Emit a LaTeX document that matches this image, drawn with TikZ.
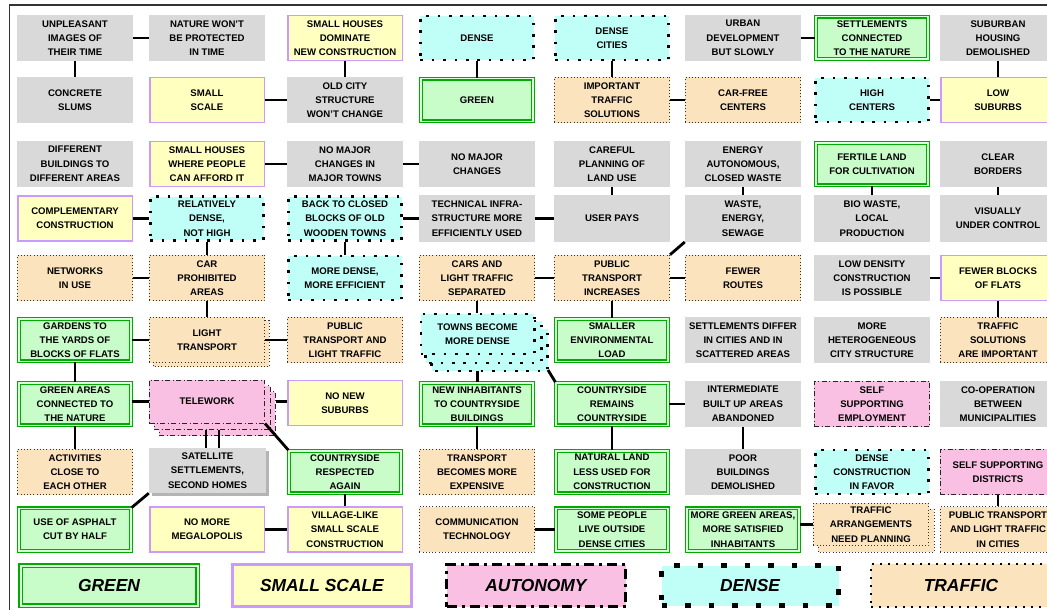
\documentclass[tikz,border=0pt]{standalone}
\usepackage{fontspec}
\setmainfont{Liberation Sans}
\usetikzlibrary{calc}
\definecolor{boxgray}{HTML}{D9D9D9}
\definecolor{boxyellow}{HTML}{FFFFC0}
\definecolor{lav}{HTML}{CC99FF}
\definecolor{boxgreen}{HTML}{C8FCC8}
\definecolor{linegreen}{HTML}{00AA00}
\definecolor{boxcyan}{HTML}{C0FFF8}
\definecolor{boxorange}{HTML}{FBE3BD}
\definecolor{boxpink}{HTML}{F9C0E3}
\definecolor{shadowgray}{HTML}{B4B4B4}
\definecolor{framecol}{HTML}{333333}
\tikzset{
  base/.style={minimum width=116pt, minimum height=46.5pt, inner sep=0pt, align=center,
    font=\fontsize{9.6}{14.3}\selectfont\bfseries, text=black},
  graybox/.style={base, fill=boxgray},
  yellowbox/.style={base, fill=boxyellow, draw=lav, line width=1.5pt, minimum width=114.5pt, minimum height=45pt},
  greenbox/.style={base, fill=boxgreen, draw=linegreen, line width=1.2pt, double=boxgreen!70!white, double distance=1.5pt, minimum width=112pt, minimum height=42.5pt},
  cyanbox/.style={base, fill=boxcyan, draw=black, line width=2.6pt, dash pattern=on 2.6pt off 8.8pt, minimum width=113.4pt, minimum height=43.9pt},
  orangebox/.style={base, fill=boxorange, draw=black!80, line width=0.8pt, dash pattern=on 0.8pt off 2.4pt, minimum width=115.2pt, minimum height=45.7pt},
  pinkbox/.style={base, fill=boxpink, draw=black!85, line width=0.8pt, dash pattern=on 5pt off 2.5pt on 1pt off 2.5pt, minimum width=115.2pt, minimum height=45.7pt},
  pinkstack/.style={fill=boxpink, draw=black!85, line width=0.8pt, dash pattern=on 5pt off 2.5pt on 1pt off 2.5pt},
  cyanstack/.style={fill=boxcyan, draw=black, line width=2.6pt, dash pattern=on 2.6pt off 8.8pt},
  orangestack/.style={fill=boxorange, draw=black!80, line width=0.8pt, dash pattern=on 0.8pt off 2.4pt},
  conn/.style={line width=2.8pt, black},
  legbase/.style={minimum width=182pt, minimum height=45pt, inner sep=0pt,
    font=\fontsize{17.4}{20}\selectfont\bfseries\itshape, text=black},
  leggreen/.style={legbase, fill=boxgreen, draw=linegreen, line width=1.5pt, double=boxgreen!70!white, double distance=2pt, minimum width=177pt, minimum height=40pt},
  legyellow/.style={legbase, fill=boxyellow, draw=lav, line width=3pt, minimum width=179pt, minimum height=42pt},
  legpink/.style={legbase, fill=boxpink, draw=black, line width=3pt, dash pattern=on 10pt off 5pt on 3pt off 5pt, minimum width=179pt, minimum height=42pt},
  legcyan/.style={legbase, fill=boxcyan, draw=black, line width=5.5pt, dash pattern=on 5.5pt off 18pt, minimum width=177pt, minimum height=40pt},
  legorange/.style={legbase, fill=boxorange, draw=black, line width=2.3pt, dash pattern=on 2.3pt off 5.7pt, minimum width=180pt, minimum height=43pt},
}
\begin{document}
\begin{tikzpicture}[x=1pt,y=-1pt]
\useasboundingbox (0,0) rectangle (1047,610);
\fill[white] (0,0) rectangle (1047,610);
\draw[framecol, line width=1.4pt] (9.5,640) -- (9.5,5) -- (1070,5);

% Row 1
\node[graybox] (r1c1) at (75,38) {UNPLEASANT\\IMAGES OF\\THEIR TIME};
\node[graybox] (r1c2) at (207,38) {NATURE WON'T\\BE PROTECTED\\IN TIME};
\node[yellowbox] (r1c3) at (345,38) {SMALL HOUSES\\DOMINATE\\NEW CONSTRUCTION};
\node[cyanbox] (r1c4) at (477,38) {DENSE};
\node[cyanbox] (r1c5) at (612,38) {DENSE\\CITIES};
\node[graybox] (r1c6) at (743,38) {URBAN\\DEVELOPMENT\\BUT SLOWLY};
\node[greenbox] (r1c7) at (872,38) {SETTLEMENTS\\CONNECTED\\TO THE NATURE};
\node[graybox] (r1c8) at (998,38) {SUBURBAN\\HOUSING\\DEMOLISHED};
% Row 2
\node[graybox] (r2c1) at (75,100) {CONCRETE\\SLUMS};
\node[yellowbox] (r2c2) at (207,100) {SMALL\\SCALE};
\node[graybox] (r2c3) at (345,100) {OLD CITY\\STRUCTURE\\WON'T CHANGE};
\node[greenbox] (r2c4) at (477,100) {GREEN};
\node[orangebox] (r2c5) at (612,100) {IMPORTANT\\TRAFFIC\\SOLUTIONS};
\node[orangebox] (r2c6) at (743,100) {CAR-FREE\\CENTERS};
\node[cyanbox] (r2c7) at (872,100) {HIGH\\CENTERS};
\node[yellowbox] (r2c8) at (998,100) {LOW\\SUBURBS};
% Row 3
\node[graybox] (r3c1) at (75,164) {DIFFERENT\\BUILDINGS TO\\DIFFERENT AREAS};
\node[yellowbox] (r3c2) at (207,164) {SMALL HOUSES\\WHERE PEOPLE\\CAN AFFORD IT};
\node[graybox] (r3c3) at (345,164) {NO MAJOR\\CHANGES IN\\MAJOR TOWNS};
\node[graybox] (r3c4) at (477,164) {NO MAJOR\\CHANGES};
\node[graybox] (r3c5) at (612,164) {CAREFUL\\PLANNING OF\\LAND USE};
\node[graybox] (r3c6) at (743,164) {ENERGY\\AUTONOMOUS,\\CLOSED WASTE};
\node[greenbox] (r3c7) at (872,164) {FERTILE LAND\\FOR CULTIVATION};
\node[graybox] (r3c8) at (998,164) {CLEAR\\BORDERS};
% Row 4
\node[yellowbox] (r4c1) at (75,218.5) {COMPLEMENTARY\\CONSTRUCTION};
\node[cyanbox] (r4c2) at (207,218.5) {RELATIVELY\\DENSE,\\NOT HIGH};
\node[cyanbox] (r4c3) at (345,218.5) {BACK TO CLOSED\\BLOCKS OF OLD\\WOODEN TOWNS};
\node[graybox] (r4c4) at (477,218.5) {TECHNICAL INFRA-\\STRUCTURE MORE\\EFFICIENTLY USED};
\node[graybox] (r4c5) at (612,218.5) {USER PAYS};
\node[graybox] (r4c6) at (743,218.5) {WASTE,\\ENERGY,\\SEWAGE};
\node[graybox] (r4c7) at (872,218.5) {BIO WASTE,\\LOCAL\\PRODUCTION};
\node[graybox] (r4c8) at (998,218.5) {VISUALLY\\UNDER CONTROL};
% Row 5
\node[orangebox] (r5c1) at (75,278) {NETWORKS\\IN USE};
\node[orangebox] (r5c2) at (207,278) {CAR\\PROHIBITED\\AREAS};
\node[cyanbox] (r5c3) at (345,278) {MORE DENSE,\\MORE EFFICIENT};
\node[orangebox] (r5c4) at (477,278) {CARS AND\\LIGHT TRAFFIC\\SEPARATED};
\node[orangebox] (r5c5) at (612,278) {PUBLIC\\TRANSPORT\\INCREASES};
\node[orangebox] (r5c6) at (743,278) {FEWER\\ROUTES};
\node[graybox] (r5c7) at (872,278) {LOW DENSITY\\CONSTRUCTION\\IS POSSIBLE};
\node[yellowbox] (r5c8) at (998,278) {FEWER BLOCKS\\OF FLATS};
% Row 6
\node[greenbox] (r6c1) at (75,340) {GARDENS TO\\THE YARDS OF\\BLOCKS OF FLATS};
\path[orangestack] (153,320.5) rectangle (269,366.5);
\node[orangebox] (r6c2) at (207,340) {LIGHT\\TRANSPORT};
\node[orangebox] (r6c3) at (345,340) {PUBLIC\\TRANSPORT AND\\LIGHT TRAFFIC};
\path[cyanstack] (431.5,329) rectangle (547.5,371);
\path[cyanstack] (425.5,321) rectangle (541.5,363);
\node[cyanbox, minimum height=40pt] (r6c4) at (477.5,334) {TOWNS BECOME\\MORE DENSE};
\coordinate (townsbot) at (477.5,371);
\coordinate (townsbr) at (548,370);
\node[greenbox] (r6c5) at (612,340) {SMALLER\\ENVIRONMENTAL\\LOAD};
\node[graybox] (r6c6) at (743,340) {SETTLEMENTS DIFFER\\IN CITIES AND IN\\SCATTERED AREAS};
\node[graybox] (r6c7) at (872,340) {MORE\\HETEROGENEOUS\\CITY STRUCTURE};
\node[orangebox] (r6c8) at (998,340) {TRAFFIC\\SOLUTIONS\\ARE IMPORTANT};
% Row 7
\node[greenbox] (r7c1) at (75,404) {GREEN AREAS\\CONNECTED TO\\THE NATURE};
\path[pinkstack] (159,391.5) rectangle (275,435.5);
\path[pinkstack] (154,385.5) rectangle (270,429.5);
\node[pinkbox, minimum height=43.2pt] (r7c2) at (207,401.5) {TELEWORK};
\coordinate (twr) at (276,401.5);
\coordinate (tw1) at (206,430);
\coordinate (tw2) at (219,430);
\node[yellowbox] (r7c3) at (345,403) {NO NEW\\SUBURBS};
\node[greenbox] (r7c4) at (477,404) {NEW INHABITANTS\\TO COUNTRYSIDE\\BUILDINGS};
\node[greenbox] (r7c5) at (612,404) {COUNTRYSIDE\\REMAINS\\COUNTRYSIDE};
\node[graybox] (r7c6) at (743,404) {INTERMEDIATE\\BUILT UP AREAS\\ABANDONED};
\node[pinkbox] (r7c7) at (872,404) {SELF\\SUPPORTING\\EMPLOYMENT};
\node[graybox] (r7c8) at (998,404) {CO-OPERATION\\BETWEEN\\MUNICIPALITIES};
% Row 8
\node[orangebox] (r8c1) at (75,472) {ACTIVITIES\\CLOSE TO\\EACH OTHER};
\fill[shadowgray] (152,451) rectangle (269,496);
\node[graybox, minimum width=117pt, minimum height=45pt] (r8c2) at (207.5,470.5) {SATELLITE\\SETTLEMENTS,\\SECOND HOMES};
\node[greenbox] (r8c3) at (345,472) {COUNTRYSIDE\\RESPECTED\\AGAIN};
\node[orangebox] (r8c4) at (477,472) {TRANSPORT\\BECOMES MORE\\EXPENSIVE};
\node[greenbox] (r8c5) at (612,472) {NATURAL LAND\\LESS USED FOR\\CONSTRUCTION};
\node[graybox] (r8c6) at (743,472) {POOR\\BUILDINGS\\DEMOLISHED};
\node[cyanbox] (r8c7) at (872,472) {DENSE\\CONSTRUCTION\\IN FAVOR};
\node[pinkbox] (r8c8) at (998,472) {SELF SUPPORTING\\DISTRICTS};
% Row 9
\node[greenbox] (r9c1) at (75,529.5) {USE OF ASPHALT\\CUT BY HALF};
\node[yellowbox] (r9c2) at (207,529.5) {NO MORE\\MEGALOPOLIS};
\node[yellowbox] (r9c3) at (345,529.5) {VILLAGE-LIKE\\SMALL SCALE\\CONSTRUCTION};
\node[orangebox] (r9c4) at (477,529.5) {COMMUNICATION\\TECHNOLOGY};
\node[greenbox] (r9c5) at (612,529.5) {SOME PEOPLE\\LIVE OUTSIDE\\DENSE CITIES};
\node[greenbox] (r9c6) at (743,529.5) {MORE GREEN AREAS,\\MORE SATISFIED\\INHABITANTS};
\path[orangestack] (818,509) rectangle (934,552);
\node[orangebox, minimum height=42.2pt] (r9c7) at (871,524.5) {TRAFFIC\\ARRANGEMENTS\\NEED PLANNING};
\node[orangebox] (r9c8) at (998,529.5) {PUBLIC TRANSPORT\\AND LIGHT TRAFFIC\\IN CITIES};

% Legend
\node[leggreen] (lg1) at (109,585.5) {GREEN};
\node[legyellow] (lg2) at (322,585.5) {SMALL SCALE};
\node[legpink] (lg3) at (536,585.5) {AUTONOMY};
\node[legcyan] (lg4) at (750,585.5) {DENSE};
\node[legorange] (lg5) at (961,585.5) {TRAFFIC};

% Connectors
\draw[conn] (r1c1) -- (r1c2);
\draw[conn] (r1c1) -- (r2c1);
\draw[conn] (r1c3) -- (r2c3);
\draw[conn] (r2c2) -- (r2c3);
\draw[conn] (r1c4) -- (r2c4);
\draw[conn] (r1c5) -- (r2c5);
\draw[conn] (r2c5) -- (r2c6);
\draw[conn] (r1c6) -- (r1c7);
\draw[conn] (r1c8) -- (r2c8);
\draw[conn] (r2c7) -- (r2c8);
\draw[conn] (r3c2) -- (r3c3);
\draw[conn] (r3c3) -- (r3c4);
\draw[conn] (r3c5) -- (r4c5);
\draw[conn] (r3c6) -- (r4c6);
\draw[conn] (r3c7) -- (r4c7);
\draw[conn] (r3c8) -- (r4c8);
\draw[conn] (r4c1) -- (r4c2);
\draw[conn] (r4c2) -- (r5c2);
\draw[conn] (r4c3) -- (r4c4);
\draw[conn] (r4c3) -- (r5c3);
\draw[conn] (r4c4) -- (r4c5);
\draw[conn] (r4c6.south west) -- (r5c5.north east);
\draw[conn] (r5c1) -- (r5c2);
\draw[conn] (r5c2) -- (r6c2);
\draw[conn] (r5c4) -- (r5c5);
\draw[conn] (r5c5) -- (r5c6);
\draw[conn] (r5c4.south) -- (r5c4.south |- r6c4.north);
\draw[conn] (r5c5) -- (r6c5);
\draw[conn] (r5c7) -- (r5c8);
\draw[conn] (r5c8) -- (r6c8);
\draw[conn] (r6c1) -- (r6c2);
\draw[conn] (r6c2) -- (r6c3);
\draw[conn] (r6c1) -- (r7c1);
\draw[conn] (townsbot) -- (townsbot |- r7c4.north);
\draw[conn] (townsbr) -- (r7c5.north west);
\draw[conn] (r7c1.east |- r7c2.center) -- (r7c2.west);
\draw[conn] (twr) -- (twr -| r7c3.west);
\draw[conn] (r7c1) -- (r8c1);
\draw[conn] (tw1) -- (tw1 |- r8c2.north);
\draw[conn] (tw2) -- (tw2 |- r8c2.north);
\draw[conn] (r7c2.south east) -- (r8c3.north west);
\draw[conn] (r8c2.south west) -- (r9c1.north east);
\draw[conn] (r8c3) -- (r9c3);
\draw[conn] (r9c2) -- (r9c3);
\draw[conn] (r7c4) -- (r8c4);
\draw[conn] (r7c5) -- (r7c6);
\draw[conn] (r7c5) -- (r8c5);
\draw[conn] (r7c6) -- (r8c6);
\draw[conn] (r9c4) -- (r9c5);
\draw[conn] (r9c7.west -| r9c6.east) -- (r9c7.west);
\draw[conn] (r8c8) -- (r9c8);
\end{tikzpicture}
\end{document}
